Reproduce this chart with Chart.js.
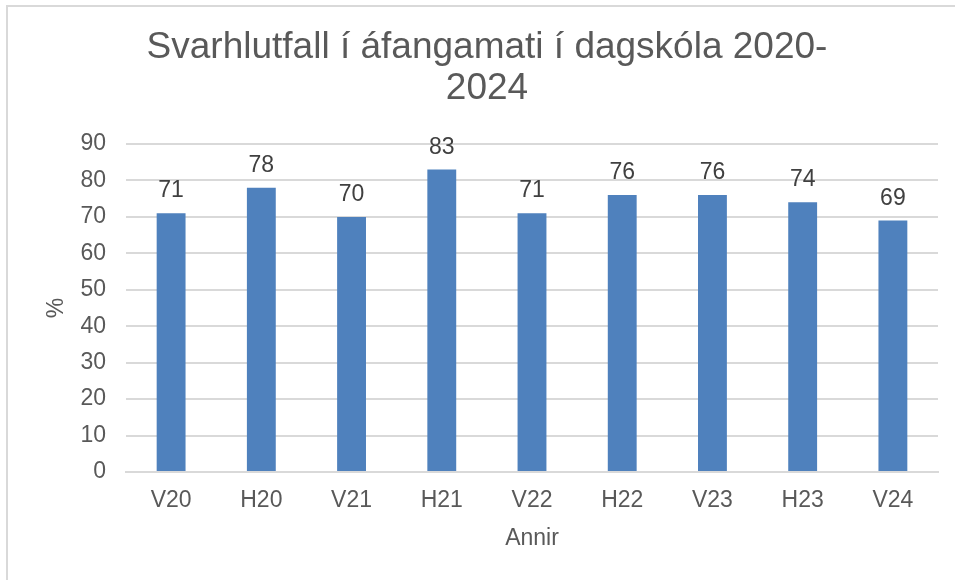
<!DOCTYPE html>
<html>
<head>
<meta charset="utf-8">
<script src="https://cdn.jsdelivr.net/npm/chart.js@4"></script>
<style>
  body { margin: 0; background: #fff; }
  #wrap { position: relative; width: 955px; height: 580px; overflow: hidden; }
  #frame { position: absolute; left: 6px; top: 5px; width: 1000px; height: 700px;
           border-top: 2px solid #d9d9d9; border-left: 2px solid #d9d9d9; }
  #chart { position: absolute; left: 0; top: 0; }
</style>
</head>
<body>
<div id="wrap">
  <div id="frame"></div>
  <canvas id="chart" width="955" height="580"></canvas>
</div>
<script>
const categories = ['V20', 'H20', 'V21', 'H21', 'V22', 'H22', 'V23', 'H23', 'V24'];
const responseRates = [71, 78, 70, 83, 71, 76, 76, 74, 69];
const titleLines = ['Svarhlutfall í áfangamati í dagskóla 2020-', '2024'];

const fontFamily = '"Liberation Sans", Arial, sans-serif';

// number above each bar
const valueLabels = {
  id: 'valueLabels',
  afterDatasetsDraw(chart) {
    const ctx = chart.ctx;
    const meta = chart.getDatasetMeta(0);
    ctx.save();
    ctx.font = '23px ' + fontFamily;
    ctx.fillStyle = '#404040';
    ctx.textAlign = 'center';
    ctx.textBaseline = 'alphabetic';
    meta.data.forEach((bar, i) => {
      ctx.fillText(String(responseRates[i]), bar.x, bar.y - 16);
    });
    ctx.restore();
  }
};

new Chart(document.getElementById('chart'), {
  type: 'bar',
  data: {
    labels: categories,
    datasets: [{
      data: responseRates,
      backgroundColor: '#4f81bd',
      barPercentage: 0.32,
      categoryPercentage: 1
    }]
  },
  options: {
    responsive: false,
    animation: false,
    layout: { padding: { left: 36, right: 17, top: 5, bottom: 28 } },
    plugins: {
      legend: { display: false },
      tooltip: { enabled: false },
      title: {
        display: true,
        text: titleLines,
        color: '#595959',
        font: { family: fontFamily, size: 37, weight: 'normal', lineHeight: '41px' },
        padding: { top: 22, bottom: 35 }
      }
    },
    scales: {
      x: {
        grid: { display: false, drawTicks: false },
        border: { display: true, color: '#d9d9d9', width: 2 },
        ticks: { color: '#595959', font: { family: fontFamily, size: 23 }, padding: 15 },
        title: {
          display: true, text: 'Annir', color: '#595959',
          font: { family: fontFamily, size: 23 }, padding: { top: 4, bottom: 0 }
        },
        afterFit: s => { s.height = 80; }
      },
      y: {
        min: 0, max: 90,
        grid: { color: '#d9d9d9', lineWidth: 2, drawTicks: false },
        border: { display: false },
        ticks: { stepSize: 10, color: '#595959', font: { family: fontFamily, size: 23 }, padding: 20 },
        title: {
          display: true, text: '%', color: '#595959',
          font: { family: fontFamily, size: 23 }, padding: { top: 7, bottom: 0 }
        },
        afterFit: s => { s.width = 90; }
      }
    }
  },
  plugins: [valueLabels]
});
</script>
</body>
</html>
